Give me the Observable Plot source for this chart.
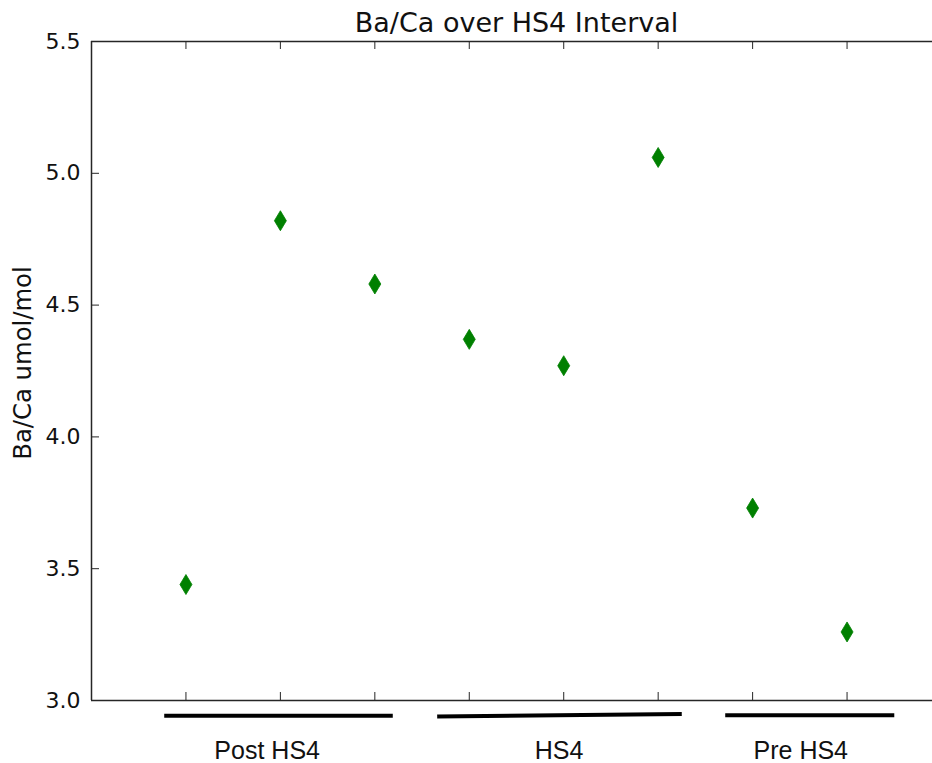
<!DOCTYPE html>
<html><head><meta charset="utf-8">
<script src="https://cdn.jsdelivr.net/npm/d3@7"></script>
<script src="https://cdn.jsdelivr.net/npm/@observablehq/plot@0.6"></script>
<style>
  html,body{margin:0;padding:0;background:#fff}
  #chart svg{display:block}
</style>
</head><body><div id="chart"></div>
<script>
// ---- data ----
const titleText = "Ba/Ca over HS4 Interval";
const yLabelText = "Ba/Ca umol/mol";
const sampleIndex = [1, 2, 3, 4, 5, 6, 7, 8];
const baCa = [3.44, 4.82, 4.58, 4.37, 4.27, 5.06, 3.73, 3.26];
const yTicks = [3.0, 3.5, 4.0, 4.5, 5.0, 5.5];
const xTicks = [1, 2, 3, 4, 5, 6, 7, 8];
const periodLabels = ["Post HS4", "HS4", "Pre HS4"];
const periodLabelX = [1.86, 4.95, 7.51];
const periodStart = [0.77, 3.66, 6.71];
const periodEnd = [3.19, 6.25, 8.5];
const periodYStart = [2.942, 2.939, 2.944];
const periodYEnd = [2.942, 2.949, 2.944];
const periodLabelY = 2.807;

// ---- tables built from the arrays ----
const points = sampleIndex.map((x, i) => ({x, y: baCa[i]}));
const segments = periodLabels.map((name, i) => ({
  name, x1: periodStart[i], x2: periodEnd[i], y1: periodYStart[i], y2: periodYEnd[i], lx: periodLabelX[i]
}));

// ---- layout ----
const W = 932, H = 763;
const mL = 91, mR = 0, mT = 41, mB = 63;
const frameW = W - mL - mR, frameH = H - mT - mB;
const tickLen = 8;
const axisColor = "#262626";

const thinDiamond = {
  draw(context, size) {
    const r = Math.sqrt(size / Math.PI);
    const w = r * 0.6;
    context.moveTo(0, -r);
    context.lineTo(w, 0);
    context.lineTo(0, r);
    context.lineTo(-w, 0);
    context.closePath();
  }
};

const chart = Plot.plot({
  width: W, height: H,
  marginLeft: mL, marginRight: mR, marginTop: mT, marginBottom: mB,
  style: {fontFamily: "'DejaVu Sans', sans-serif", background: "#fff", color: "#111"},
  x: {domain: [0, 9], range: [mL, 941], axis: null},
  y: {domain: [3.0, 5.5], axis: null},
  marks: [
    // spines
    Plot.ruleX([0], {stroke: axisColor, strokeWidth: 1.5}),
    Plot.ruleY([3.0], {stroke: axisColor, strokeWidth: 1.5}),
    Plot.ruleY([5.5], {stroke: axisColor, strokeWidth: 1.5}),
    // inward ticks
    Plot.tickX(xTicks, {x: d => d, stroke: axisColor, strokeWidth: 1, insetTop: frameH - tickLen}),
    Plot.tickX(xTicks, {x: d => d, stroke: axisColor, strokeWidth: 1, insetBottom: frameH - tickLen}),
    Plot.tickY(yTicks, {y: d => d, stroke: axisColor, strokeWidth: 1, insetRight: frameW - tickLen}),
    // y tick labels
    Plot.axisY(yTicks, {anchor: "left", tickSize: 0, tickPadding: 11, tickFormat: d3.format(".1f"),
      fontSize: 22, fill: "#111", label: null}),
    // data
    Plot.dot(points, {x: "x", y: "y", symbol: thinDiamond, r: 10, fill: "green", stroke: "green", strokeWidth: 0.8}),
    // period bars and labels
    Plot.link(segments, {x1: "x1", x2: "x2", y1: "y1", y2: "y2", stroke: "#000", strokeWidth: 4}),
    Plot.text(segments, {x: "lx", y: () => periodLabelY, text: "name", fontSize: 25,
      fontFamily: "'Liberation Sans', Arial, sans-serif", fill: "#111"}),
    // title
    Plot.text([titleText], {x: () => 4.5, frameAnchor: "top", lineAnchor: "middle", textAnchor: "middle",
      dy: -18.6, text: d => d, fontSize: 27, fill: "#111"}),
    // y label
    Plot.text([yLabelText], {frameAnchor: "left", rotate: -90, textAnchor: "middle", lineAnchor: "middle",
      dx: -68.5, dy: -8, text: d => d, fontSize: 24.3, fill: "#111"})
  ]
});
document.getElementById("chart").appendChild(chart);
</script>
</body></html>
